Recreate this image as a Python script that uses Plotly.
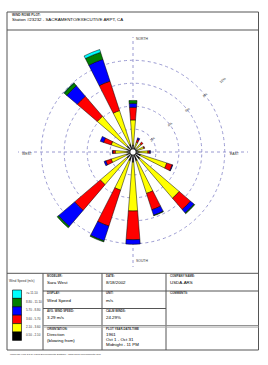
import plotly.graph_objects as go

W, H = 268, 365

# ---------------- data ----------------
directions = ["N", "NNE", "NE", "ENE", "E", "ESE", "SE", "SSE",
              "S", "SSW", "SW", "WSW", "W", "WNW", "NW", "NNW"]
dir_angles = [0, 22.5, 45, 67.5, 90, 112.5, 135, 157.5,
              180, 202.5, 225, 247.5, 270, 292.5, 315, 337.5]

# frequency (%) of each speed class per direction (increments, stacked outward)
freq_050_210 = [0.6, 0.4, 0.4, 0.4, 0.5, 0.7, 0.8, 0.8, 0.9, 0.8, 0.7, 0.6, 0.5, 0.6, 0.7, 0.7]
freq_210_360 = [2.2, 0.5, 0.55, 0.6, 0.8, 2.4, 4.5, 3.0, 4.25, 2.7, 3.05, 1.4, 1.05, 1.4, 3.4, 3.1]
freq_360_570 = [1.1, 0.25, 0.2, 0.08, 0.15, 0.5, 1.3, 1.5, 2.5, 3.3, 2.95, 0.5, 0.2, 0.7, 2.3, 2.7]
freq_570_880 = [0.35, 0.15, 0.0, 0.0, 0.08, 0.05, 0.4, 0.5, 0.4, 1.35, 1.85, 0.15, 0.05, 0.3, 1.2, 2.0]
freq_880_1110 = [0.25, 0.0, 0.0, 0.0, 0.0, 0.0, 0.08, 0.05, 0.0, 0.1, 0.15, 0.0, 0.0, 0.0, 0.3, 0.65]
freq_ge_1110 = [0.0, 0.0, 0.0, 0.0, 0.0, 0.0, 0.0, 0.0, 0.0, 0.0, 0.0, 0.0, 0.0, 0.0, 0.04, 0.25]

class_labels = ["0.50 - 2.10", "2.10 - 3.60", "3.60 - 5.70", "5.70 - 8.80", "8.80 - 11.10", ">= 11.10"]
class_colors = ["#000000", "#FFFF00", "#FF0000", "#0000FF", "#008000", "#00FFFF"]
class_values = [freq_050_210, freq_210_360, freq_360_570, freq_570_880, freq_880_1110, freq_ge_1110]

ring_vals = [2, 4, 6, 8, 10]
ring_text = ["2%", "4%", "6%", "8%", "10%"]

station = "Station #23232 - SACRAMENTO/EXECUTIVE ARPT, CA"
modeler = "Sara West"
date = "8/18/2002"
company = "USDA-ARS"
display = "Wind Speed"
unit = "m/s"
avg_speed = "3.29 m/s"
calm_winds = "24.29%"
plot_period = ["1961", "Oct 1 - Oct 31", "Midnight - 11 PM"]
footer = "WRPLOT View 3.5 by Lakes Environmental Software - www.lakes-environmental.com"

# ---------------- helpers ----------------
def px(x):
    return x / W

def py(y):
    return 1 - y / H

FONT = "Liberation Sans, Arial, sans-serif"
GRID = "#9a9ad2"

fig = go.Figure()

for lab, col, vals in zip(class_labels, class_colors, class_values):
    fig.add_trace(go.Barpolar(
        r=vals, theta=dir_angles, width=[9] * len(dir_angles),
        name=lab, marker=dict(color=col, line=dict(color="#000000", width=0.5)),
        showlegend=False,
    ))

cx, cy, R = 133, 152, 115

shapes = []
def line(x0, y0, x1, y1, color="#555555", width=1):
    shapes.append(dict(type="line", xref="paper", yref="paper",
                       x0=px(x0), y0=py(y0), x1=px(x1), y1=py(y1),
                       line=dict(color=color, width=width)))

def rect(x0, y0, x1, y1, fill=None, color="#555555", width=1):
    shapes.append(dict(type="rect", xref="paper", yref="paper",
                       x0=px(x0), y0=py(y0), x1=px(x1), y1=py(y1),
                       fillcolor=fill if fill else "rgba(0,0,0,0)",
                       line=dict(color=color, width=width)))

# outer frame and header
rect(7, 12, 258.5, 350)
line(7, 30, 258.5, 30)
# table
line(7, 273.3, 258.5, 273.3)
for xv in (43, 102, 166):
    line(xv, 273.3, xv, 350)
line(43, 291, 258.5, 291)
line(43, 308.5, 166, 308.5)
line(43, 325.6, 258.5, 325.6, color="#888888", width=1)
line(43, 327.1, 258.5, 327.1, color="#aaaaaa", width=1)

# calm circle at the centre
r_c = 3.2
shapes.append(dict(type="circle", xref="paper", yref="paper",
                   x0=px(cx - r_c), x1=px(cx + r_c), y0=py(cy + r_c), y1=py(cy - r_c),
                   fillcolor="white", line=dict(color="black", width=0.8)))

# legend boxes
box_top, box_h = 290, 8.4
legend_order = list(range(len(class_labels)))[::-1]
for i, k in enumerate(legend_order):
    y0 = box_top + i * box_h
    rect(12.5, y0, 21.5, y0 + box_h, fill=class_colors[k], color="#000000", width=0.6)

ann = []
def text(x, y, s, size=4.5, anchor="left", bold=False, color="#000000"):
    if bold:
        s = "<b>" + s + "</b>"
    ann.append(dict(x=px(x), y=py(y), xref="paper", yref="paper", text=s,
                    showarrow=False, xanchor=anchor, yanchor="middle",
                    font=dict(family=FONT, size=size, color=color)))

text(9.5, 14.5, "WIND ROSE PLOT:", size=3.2, bold=True, color="#333333")
text(9.5, 19.5, station, size=4.4)

# compass labels
text(134, 39.3, "NORTH", size=3.4, color="#333333")
text(134, 261, "SOUTH", size=3.4, color="#333333")
text(19.5, 154.3, "WEST", size=3.4, color="#333333")
text(241, 154.3, "EAST", size=3.4, anchor="right", color="#333333")

# legend text
text(22, 280.5, "Wind Speed (m/s)", size=3.2, anchor="center", color="#333333")
for i, k in enumerate(legend_order):
    text(24, box_top + i * box_h + 3.4, class_labels[k], size=3.0, color="#333333")

# table cells
LBL = 2.9
VAL = 4.4
text(45, 275.7, "MODELER:", size=LBL, bold=True, color="#333333")
text(45, 282.3, modeler, size=VAL)
text(45, 293.3, "DISPLAY:", size=LBL, bold=True, color="#333333")
text(45, 300, display, size=VAL)
text(45, 311, "AVG. WIND SPEED:", size=LBL, bold=True, color="#333333")
text(45, 317.7, avg_speed, size=VAL)
text(45, 328.9, "ORIENTATION:", size=LBL, bold=True, color="#333333")
text(45, 334.8, "Direction", size=VAL)
text(45, 340.2, "(blowing from)", size=VAL)

text(104, 275.7, "DATE:", size=LBL, bold=True, color="#333333")
text(104, 282.3, date, size=VAL)
text(104, 293.3, "UNIT:", size=LBL, bold=True, color="#333333")
text(104, 300, unit, size=VAL)
text(104, 311, "CALM WINDS:", size=LBL, bold=True, color="#333333")
text(104, 317.7, calm_winds, size=VAL)
text(104, 328.9, "PLOT YEAR-DATE-TIME", size=LBL, bold=True, color="#333333")
for j, s in enumerate(plot_period):
    text(104, 334.8 + j * 4.6, s, size=VAL)

text(168, 275.7, "COMPANY NAME:", size=LBL, bold=True, color="#333333")
text(168, 282.3, company, size=VAL)
text(168, 293.3, "COMMENTS:", size=LBL, bold=True, color="#333333")

text(8, 354.5, footer, size=2.4, color="#333333")

fig.update_layout(
    width=W, height=H,
    margin=dict(l=0, r=0, t=0, b=0),
    paper_bgcolor="white",
    font=dict(family=FONT),
    shapes=shapes,
    annotations=ann,
    polar=dict(
        domain=dict(x=[px(cx - R), px(cx + R)], y=[py(cy + R), py(cy - R)]),
        bgcolor="white",
        barmode="stack",
        radialaxis=dict(range=[0, 10.03], tickvals=ring_vals, ticktext=ring_text,
                        showline=False, ticks="", angle=40, tickangle=0,
                        gridcolor=GRID, griddash="dot", gridwidth=1,
                        tickfont=dict(size=3.4, color="#333333", family=FONT)),
        angularaxis=dict(rotation=90, direction="clockwise",
                         tickvals=[0, 90, 180, 270], showticklabels=False, ticks="",
                         showline=False, gridcolor=GRID, griddash="dot", gridwidth=1),
    ),
)

fig.write_html("out.html")
